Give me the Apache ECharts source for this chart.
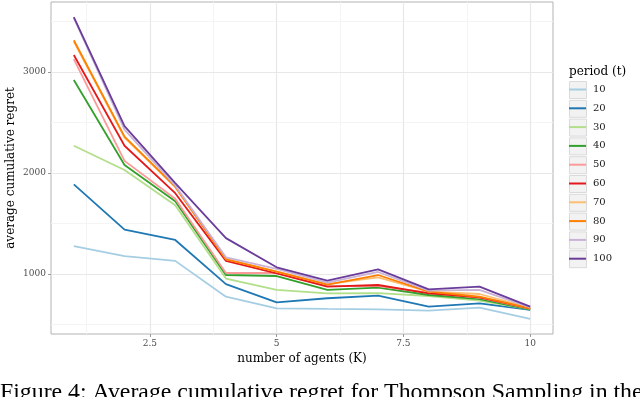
<!DOCTYPE html>
<html>
<head>
<meta charset="utf-8">
<script src="https://cdn.jsdelivr.net/npm/echarts@6/dist/echarts.min.js"></script>
<style>
  html, body { margin: 0; padding: 0; background: #fff; }
  #chart { width: 640px; height: 397px; }
</style>
</head>
<body>
<div id="chart"></div>
<script>
// number of agents (K)
var agents = [1, 2, 3, 4, 5, 6, 7, 8, 9, 10]
var periods = ['10', '20', '30', '40', '50', '60', '70', '80', '90', '100']

// average cumulative regret, one list per period (t)
var regret10 = [1277, 1178, 1130, 775, 660, 654, 650, 637, 667, 555]
var regret20 = [1888, 1439, 1337, 900, 720, 760, 785, 677, 710, 644]
var regret30 = [2270, 2030, 1680, 955, 842, 809, 810, 782, 736, 650]
var regret40 = [2920, 2080, 1720, 990, 980, 842, 865, 792, 752, 648]
var regret50 = [3128, 2120, 1745, 1010, 1010, 880, 880, 815, 765, 655]
var regret60 = [3168, 2270, 1800, 1130, 1007, 875, 891, 809, 769, 660]
var regret70 = [3300, 2350, 1860, 1150, 1023, 900, 967, 825, 802, 665]
var regret80 = [3314, 2360, 1865, 1145, 1023, 895, 990, 825, 775, 660]
var regret90 = [3535, 2430, 1875, 1165, 1050, 914, 1020, 835, 842, 670]
var regret100 = [3544, 2465, 1900, 1355, 1066, 934, 1046, 848, 875, 677]

// tick labels + grid lines
var xTicks = [2.5, 5, 7.5, 10]
var xMinor = [1.25, 3.75, 6.25, 8.75]
var yTicks = [1000, 2000, 3000]
var yMinor = [500, 1500, 2500, 3500]

var allRegret = [regret10, regret20, regret30, regret40, regret50,
  regret60, regret70, regret80, regret90, regret100]
var colors = ['#a6cee3', '#1f78b4', '#b2df8a', '#33a02c', '#fb9a99',
  '#e31a1c', '#fdbf6f', '#ff7f00', '#cab2d6', '#6a3d9a']

var serif = 'DejaVu Serif'
var chart = echarts.init(document.getElementById('chart'))

var series = []
// grid lines (ggplot style) drawn under everything
series.push({
  type: 'line',
  data: [],
  silent: true,
  z: 1,
  markLine: {
    silent: true,
    z: 1,
    symbol: ['none', 'none'],
    label: { show: false },
    animation: false,
    data: xMinor.map(function(v) { return { xAxis: v, lineStyle: { color: '#f4f4f4', width: 1, type: 'solid' } } })
      .concat(yMinor.map(function(v) { return { yAxis: v, lineStyle: { color: '#f4f4f4', width: 1, type: 'solid' } } }))
      .concat(xTicks.map(function(v) { return { xAxis: v, lineStyle: { color: '#e8e8e8', width: 1.2, type: 'solid' } } }))
      .concat(yTicks.map(function(v) { return { yAxis: v, lineStyle: { color: '#e8e8e8', width: 1.2, type: 'solid' } } }))
  }
})
periods.forEach(function(p, i) {
  series.push({
    name: p,
    type: 'line',
    z: 3,
    data: agents.map(function(k, j) { return [k, allRegret[i][j]] }),
    showSymbol: false,
    lineStyle: { color: colors[i], width: 1.8 },
    itemStyle: { color: colors[i] }
  })
})

// grey key boxes behind the legend lines
var keyBoxes = periods.map(function(p, i) {
  return {
    type: 'rect',
    left: 569,
    top: 81 + i * 18.8,
    z: 0,
    shape: { width: 17, height: 17 },
    style: { fill: '#f2f2f2', stroke: '#dadada', lineWidth: 1 }
  }
})

function plain(v) { return String(v) }

chart.setOption({
  animation: false,
  grid: {
    left: 51,
    right: 87,
    top: 2,
    bottom: 63,
    outerBoundsMode: 'none',
    show: true,
    borderColor: '#b3b3b3',
    borderWidth: 1,
    backgroundColor: '#fff'
  },
  legend: {
    data: periods,
    orient: 'vertical',
    left: 569,
    top: 82.5,
    padding: 0,
    itemGap: 4.8,
    itemWidth: 17,
    itemHeight: 2,
    icon: 'rect',
    z: 4,
    textStyle: {
      fontFamily: serif,
      fontSize: 10,
      color: '#1a1a1a',
      lineHeight: 14,
      padding: [0, 0, 0, 2]
    }
  },
  xAxis: {
    type: 'value',
    min: 0.55,
    max: 10.45,
    name: 'number of agents (K)',
    nameLocation: 'middle',
    nameGap: 19,
    nameMoveOverlap: false,
    nameTextStyle: { fontFamily: serif, fontSize: 12, color: '#000' },
    axisLine: { show: false },
    axisTick: { show: true, customValues: xTicks, length: 3, lineStyle: { color: '#999' } },
    axisLabel: { customValues: xTicks, margin: 5, formatter: plain, fontFamily: serif, fontSize: 9, color: '#4d4d4d' },
    splitLine: { show: false }
  },
  yAxis: {
    type: 'value',
    min: 406,
    max: 3693,
    name: 'average cumulative regret',
    nameLocation: 'middle',
    nameGap: 34,
    nameMoveOverlap: false,
    nameTextStyle: { fontFamily: serif, fontSize: 12, color: '#000' },
    axisLine: { show: false },
    axisTick: { show: true, customValues: yTicks, length: 3, lineStyle: { color: '#999' } },
    axisLabel: { customValues: yTicks, margin: 5, formatter: plain, fontFamily: serif, fontSize: 9, color: '#4d4d4d' },
    splitLine: { show: false }
  },
  graphic: keyBoxes.concat([
    {
      type: 'text',
      left: 569,
      top: 66,
      style: { text: 'period (t)', fontFamily: serif, fontSize: 12, fill: '#000' }
    },
    {
      type: 'text',
      x: 0,
      y: 392.5,
      style: {
        text: 'Figure 4: Average cumulative regret for Thompson Sampling in the',
        fontFamily: 'Liberation Serif',
        fontSize: 23.8,
        fill: '#000',
        textVerticalAlign: 'middle'
      }
    }
  ]),
  series: series
})
</script>
</body>
</html>
